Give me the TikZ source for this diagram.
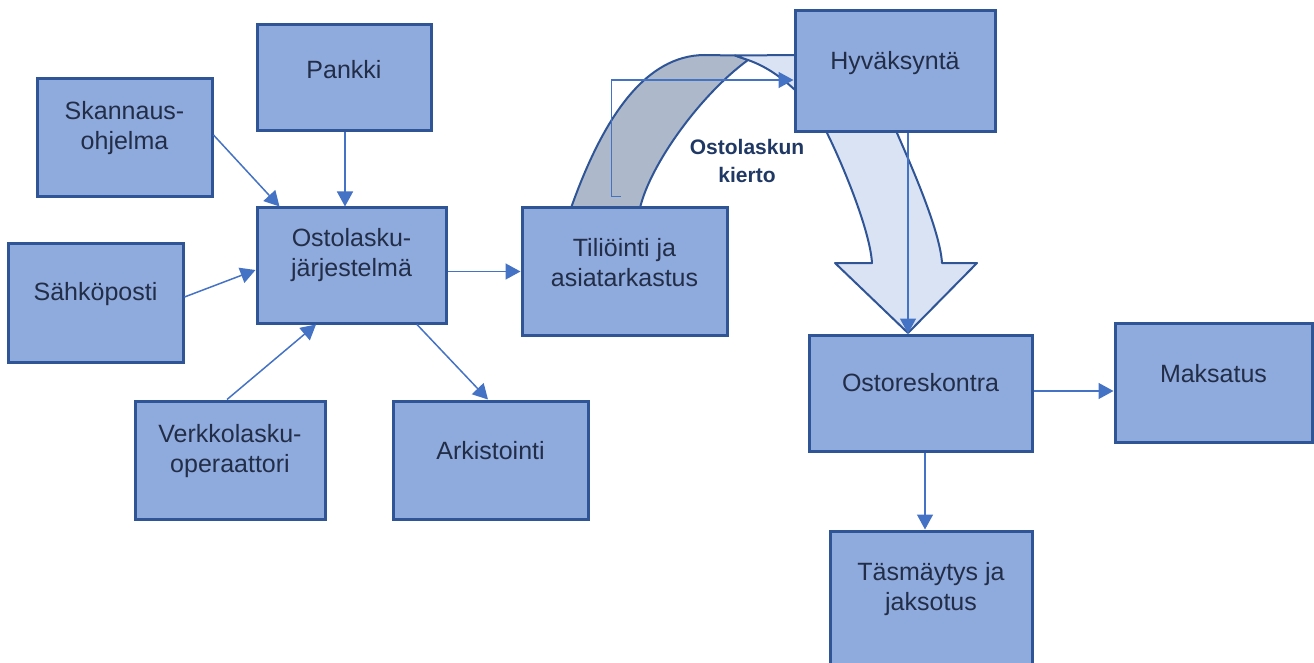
\documentclass[tikz,border=0pt]{standalone}
\usepackage{fontspec}
\setmainfont{Liberation Sans}
\usetikzlibrary{arrows.meta}

\definecolor{boxfill}{HTML}{8FAADC}
\definecolor{boxline}{HTML}{2F5597}
\definecolor{conncol}{HTML}{4472C4}
\definecolor{txtcol}{HTML}{222E48}
\definecolor{backfill}{HTML}{ADB9CA}
\definecolor{frontfill}{HTML}{DAE3F3}
\definecolor{kiertocol}{HTML}{203864}

\tikzset{
    box/.style={draw=boxline, fill=boxfill, line width=3pt},
    boxtext/.style={align=center, text=txtcol, font=\fontsize{25}{30}\selectfont},
    conn/.style={draw=conncol, line width=1.5pt, -{Triangle[length=15pt,width=16pt]}},
    bigarrow/.style={draw=boxline, line width=2pt, line join=round},
    bigtext/.style={align=center, text=kiertocol, font=\fontsize{21}{28}\selectfont\bfseries},
}

\begin{document}
\begin{tikzpicture}[x=1pt, y=-1pt]
        \useasboundingbox (0,0) rectangle (1314,663);
        % kierto-nuoli laatikoiden takana
        \filldraw[bigarrow, fill=backfill] (571,208) .. controls (603,118) and (645,55) .. (705,55)
            -- (735,55.5) -- (748,60) .. controls (700,95) and (650,165) .. (640,208) -- cycle;
        \filldraw[bigarrow, fill=frontfill] (735,55.5) -- (800,55) .. controls (860,56) and (888,100) .. (897,133)
            .. controls (910,163) and (940,230) .. (942,263) -- (977,263) -- (908,333) -- (835,263) -- (872,263)
            .. controls (870,230) and (842,163) .. (827,133) .. controls (815,112) and (805,98) .. (795,90)
            .. controls (780,76) and (765,66) .. (748,60) -- cycle;
        \node[bigtext] (kierto) at (747,161) {Ostolaskun\\kierto};

        % laatikot
        \node[box, minimum width=175pt, minimum height=118pt] (skann) at (124.5,138) {};
        \node[box, minimum width=174pt, minimum height=106pt] (pankki) at (344,78) {};
        \node[box, minimum width=189pt, minimum height=115pt] (ost) at (351.5,265.5) {};
        \node[box, minimum width=175pt, minimum height=119pt] (sahko) at (95.5,302.5) {};
        \node[box, minimum width=190pt, minimum height=118pt] (verk) at (230,460) {};
        \node[box, minimum width=195pt, minimum height=118pt] (ark) at (490.5,460) {};
        \node[box, minimum width=205pt, minimum height=127pt] (tili) at (624.5,271.5) {};
        \node[box, minimum width=200pt, minimum height=121pt] (hyv) at (895,71.5) {};
        \node[box, minimum width=223pt, minimum height=116pt] (ostr) at (920.5,393) {};
        \node[box, minimum width=197pt, minimum height=119pt] (maks) at (1213.5,382.5) {};
        \node[box, minimum width=202pt, minimum height=136pt] (tasm) at (931,599) {};

        % tekstit
        \node[boxtext] (skann-t) at ([yshift=10pt]skann.center) {Skannaus-\\ohjelma};
        \node[boxtext] (pankki-t) at ([yshift=8pt]pankki.center) {Pankki};
        \node[boxtext] (ost-t) at ([yshift=10pt]ost.center) {Ostolasku-\\järjestelmä};
        \node[boxtext] (sahko-t) at ([yshift=8pt]sahko.center) {Sähköposti};
        \node[boxtext] (verk-t) at ([yshift=9pt]verk.center) {Verkkolasku-\\operaattori};
        \node[boxtext] (ark-t) at ([yshift=9pt]ark.center) {Arkistointi};
        \node[boxtext] (tili-t) at ([yshift=9pt]tili.center) {Tiliöinti ja\\asiatarkastus};
        \node[boxtext] (hyv-t) at ([yshift=8pt]hyv.center) {Hyväksyntä};
        \node[boxtext] (ostr-t) at ([yshift=10pt]ostr.center) {Ostoreskontra};
        \node[boxtext] (maks-t) at ([yshift=9pt]maks.center) {Maksatus};
        \node[boxtext] (tasm-t) at ([yshift=10pt]tasm.center) {Täsmäytys ja\\jaksotus};

        % nuolet
        \draw[conn] ([yshift=3pt]skann.east) -- ([xshift=24pt]ost.north west);
        \draw[conn] ([xshift=1pt]pankki.south) coordinate (pk) -- (pk |- ost.north);
        \draw[conn] ([yshift=5.5pt]sahko.east) -- ([yshift=-4.5pt]ost.west);
        \draw[conn] ([xshift=-3pt]verk.north) -- ([xshift=-35.5pt]ost.south);
        \draw[conn] ([xshift=65.5pt]ost.south) -- ([xshift=-2.5pt]ark.north);
        \draw[conn] (ost.east |- tili.west) -- (tili.west);
        \draw[conn] ([xshift=-4pt,yshift=10pt]tili.north) -- ++(-9,0) |- ([yshift=-8.5pt]hyv.west);
        \draw[conn] ([xshift=13pt]hyv.south) coordinate (hv) -- (hv |- ostr.north);
        \draw[conn] ([yshift=2pt]ostr.east) coordinate (or) -- (or -| maks.west);
        \draw[conn] ([xshift=4.5pt]ostr.south) coordinate (os) -- (os |- tasm.north);
\end{tikzpicture}
\end{document}
